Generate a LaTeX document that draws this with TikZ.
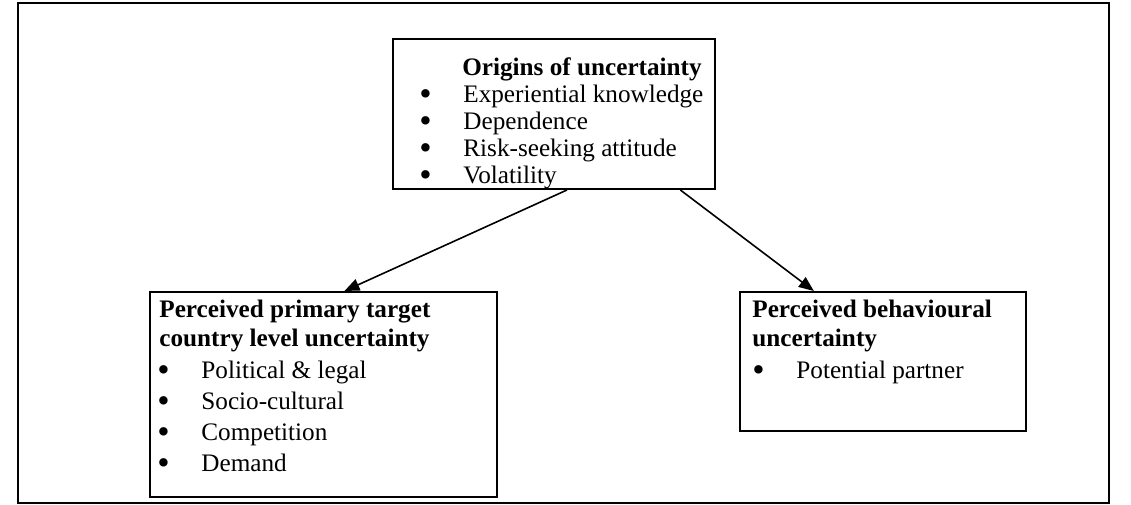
\documentclass[tikz,border=0pt]{standalone}
\usepackage{fontspec}
\setmainfont{Liberation Serif}
\usetikzlibrary{
    arrows.meta,
    positioning,
    calc
}
\newcommand{\blt}{\makebox[22pt][l]{\smash{\raisebox{-1.2pt}{\scalebox{1.4}{\textbullet}}}}}

\begin{document}
\begin{tikzpicture}[x=0.5pt, y=-0.5pt,
        box/.style={draw, line width=1pt, anchor=north west, inner sep=0pt},
        head/.style={font=\fontsize{12.6}{14.5}\selectfont\bfseries, align=left, inner sep=0pt, anchor=north west},
        list/.style={font=\fontsize{12.6}{15.5}\selectfont, align=left, inner sep=0pt, anchor=north west},
        link/.style={-{Triangle[length=7.5pt, width=6pt]}, line width=0.8pt}
    ]
        \useasboundingbox (0,0) rectangle (1131,504);

        % Outer frame
        \draw[line width=1pt] (18,3) rectangle (1109,503);

        % Origins
        \node[box, minimum width=161pt, minimum height=75pt] (origin) at (392,38) {};
        \node[head, anchor=north] (originT) at (582,57) {Origins of uncertainty};
        \node[list, font=\fontsize{12.6}{13.5}\selectfont] (originL) at (419,85) {
            \blt Experiential knowledge\\
            \blt Dependence\\
            \blt Risk-seeking attitude\\
            \blt Volatility
        };

        % Country level
        \node[box, minimum width=173.5pt, minimum height=102.5pt] (country) at (149,291) {};
        \node[head] (countryT) at (159,300) {Perceived primary target\\country level uncertainty};
        \node[list] (countryL) at (157,361) {
            \blt Political \& legal\\
            \blt Socio-cultural\\
            \blt Competition\\
            \blt Demand
        };

        % Behavioural
        \node[box, minimum width=143pt, minimum height=69.5pt] (partner) at (739,291) {};
        \node[head] (partnerT) at (752,300) {Perceived behavioural\\uncertainty};
        \node[list] (partnerL) at (752,361) {\blt Potential partner};

        % Arrows
        \coordinate (fromL) at ($(origin.south west)!0.54!(origin.south east)$);
        \coordinate (fromR) at ($(origin.south west)!0.89!(origin.south east)$);
        \coordinate (toL) at ($(country.north west)!0.56!(country.north east)$);
        \coordinate (toR) at ($(partner.north west)!0.26!(partner.north east)$);
        \draw[link] (fromL) -- (toL);
        \draw[link] (fromR) -- (toR);
    \end{tikzpicture}
\end{document}
